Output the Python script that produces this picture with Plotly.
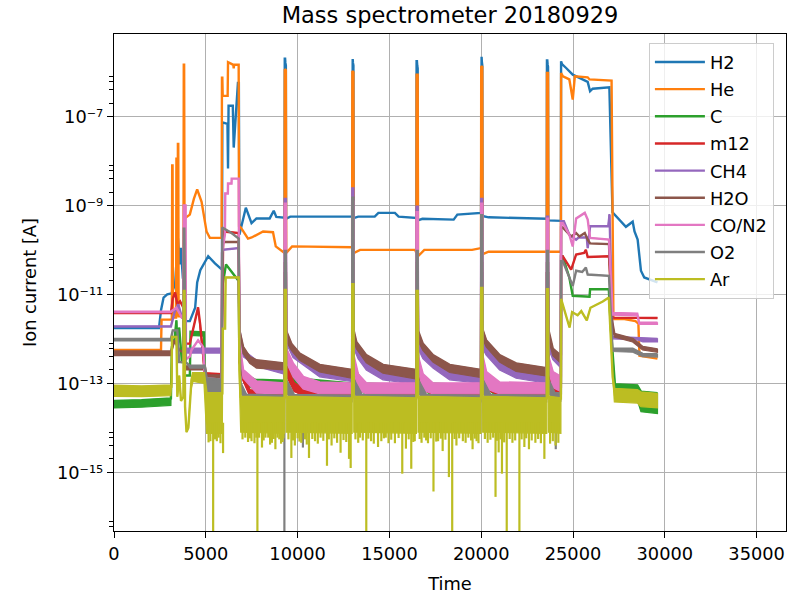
import plotly.graph_objects as go

# Mass spectrometer log of 2018-09-29: ion current [A] per channel versus time [s].
# Clean channels are stored as (time, current) knots.  Noisy channels are stored as
# (time, upper, lower) envelope knots; lower = None means the trace is clean there.

H2_ROWS = [
    (0, 1.74e-12), (2450, 1.74e-12), (2560, 4.4e-12), (2700, 8.5e-12), (2900, 1.0e-11),
    (3130, 1.05e-11), (3330, 1.7e-11), (3480, 1.86e-10), (3570, 4.7e-11), (3640, 1.12e-10),
    (3750, 2.4e-11), (3790, 2.4e-11), (3850, 2.5e-12), (4130, 2.5e-12), (4420, 5.0e-12),
    (4530, 1.86e-11), (4700, 3.5e-11), (5130, 7.2e-11), (5500, 5.0e-11), (5880, 3.6e-11),
    (5900, 7.4e-8), (6180, 6.8e-8), (6210, 6.8e-9), (6240, 1.74e-7), (6470, 1.74e-7),
    (6520, 2.0e-8), (6750, 5.7e-7), (6800, 5.7e-7), (6830, 2.2e-10), (7180, 8.9e-10),
    (7490, 4.0e-10), (7760, 5.1e-10), (8480, 5.1e-10), (8700, 7.6e-10), (8840, 5.5e-10),
    (9290, 5.3e-10), (9300, 2.0e-6), (9320, 2.0e-6), (9335, 1.6e-6), (9360, 1.4e-6),
    (9370, 5.0e-10), (9600, 5.6e-10), (12970, 5.6e-10), (12980, 1.95e-6), (13000, 1.95e-6),
    (13015, 1.6e-6), (13040, 1.4e-6), (13050, 5.2e-10), (13300, 5.6e-10), (14200, 5.6e-10),
    (14400, 6.8e-10), (15300, 6.8e-10), (15500, 5.6e-10), (16470, 5.2e-10), (16480, 1.74e-6),
    (16500, 1.74e-6), (16515, 1.4e-6), (16540, 1.2e-6), (16550, 4.6e-10), (16800, 5.0e-10),
    (18500, 4.8e-10), (18700, 6.2e-10), (19990, 6.8e-10), (20000, 2.2e-6), (20020, 2.2e-6),
    (20035, 1.7e-6), (20060, 1.4e-6), (20070, 5.8e-10), (20400, 5.4e-10), (23570, 5.0e-10),
    (23580, 1.82e-6), (23600, 1.82e-6), (23615, 1.5e-6), (23640, 1.3e-6), (23650, 4.6e-10),
    (24340, 4.5e-10), (24350, 1.74e-6), (24400, 1.5e-6), (24625, 1.23e-6), (24985, 8.7e-7),
    (25350, 7.4e-7), (25800, 6.0e-7), (25930, 3.7e-7), (26070, 4.2e-7), (26980, 4.5e-7),
    (27150, 7.0e-10), (27880, 3.3e-10), (28250, 4.3e-10), (28350, 2.6e-10), (28520, 1.7e-10),
    (28700, 3.4e-11), (28880, 2.4e-11), (29600, 1.86e-11),
]

HE_ROWS = [
    (0, 5.6e-13), (2560, 5.6e-13), (2590, 2.7e-12), (3150, 2.7e-12), (3170, 7.9e-9),
    (3190, 7.9e-9), (3210, 3.0e-12), (3380, 3.0e-12), (3400, 1.2e-8), (3420, 3.2e-12),
    (3460, 3.2e-12), (3480, 2.4e-8), (3500, 2.4e-8), (3520, 3.2e-12), (3780, 3.2e-12),
    (3800, 1.45e-6), (3820, 1.45e-6), (3840, 5.1e-10), (4130, 6.2e-10), (4350, 1.4e-9),
    (4530, 2.3e-9), (4770, 1.2e-9), (5040, 2.6e-10), (5220, 1.86e-10), (5860, 1.86e-10),
    (5880, 7.4e-7), (5900, 7.4e-7), (5920, 2.9e-7), (6190, 2.9e-7), (6210, 1.66e-6),
    (6500, 1.45e-6), (6520, 1.2e-6), (6540, 1.45e-6), (6790, 1.45e-6), (6812, 3.4e-10),
    (6900, 3.2e-10), (7300, 1.8e-10), (7500, 1.9e-10), (8120, 2.6e-10), (8660, 2.5e-10),
    (8810, 1.2e-10), (9290, 8.5e-11), (9300, 1.15e-6), (9360, 1.1e-6), (9380, 8.5e-11),
    (9700, 1.2e-10), (12970, 1.15e-10), (12980, 1.05e-6), (13040, 1.0e-6), (13060, 8.5e-11),
    (13400, 1.0e-10), (16400, 1.0e-10), (16470, 8.5e-11), (16480, 8.7e-7), (16540, 8.7e-7),
    (16560, 7.2e-11), (16900, 1.0e-10), (19500, 1.0e-10), (19900, 1.1e-10), (19990, 1.1e-10),
    (20000, 1.35e-6), (20060, 1.3e-6), (20080, 8.0e-11), (20400, 9.1e-11), (23570, 9.1e-11),
    (23580, 9.5e-7), (23640, 9.5e-7), (23660, 9.1e-11), (24340, 9.1e-11), (24350, 9.5e-7),
    (24450, 8.0e-7), (24800, 6.8e-7), (24985, 2.4e-7), (25100, 8.0e-7), (25800, 7.6e-7),
    (25900, 6.8e-7), (27100, 6.4e-7), (27200, 2.8e-12), (27800, 2.8e-12), (28400, 2.5e-12),
    (28560, 2.2e-12), (28620, 4.2e-13), (29600, 3.6e-13),
]

C_ROWS = [
    (0, 4.0e-14, 2.8e-14), (1500, 4.2e-14, 2.9e-14), (3100, 4.6e-14, 3.2e-14),
    (3150, 6.6e-13, None), (3300, 1.0e-12, None), (3400, 2.6e-12, None), (3450, 6.0e-13, None),
    (3550, 1.8e-12, None), (3700, 3.0e-13, None), (3780, 3.0e-13, None), (3800, 2.0e-11, None),
    (3830, 2.0e-11, None), (3850, 1.5e-13, None), (4130, 1.5e-13, None),
    (4170, 1.45e-12, 1.2e-12), (4900, 1.4e-12, 1.15e-12), (4950, 1.2e-13, 8e-14),
    (5860, 1.0e-13, 6e-14), (5900, 1.5e-11, None), (6100, 4.7e-11, None), (6790, 2.0e-11, None),
    (6830, 3.0e-13, None), (7100, 1.6e-13, 1.0e-13), (7700, 1.2e-13, 7e-14),
    (9290, 1.15e-13, 6.5e-14), (9300, 3e-11, None), (9360, 3e-11, None),
    (9380, 2.5e-13, 1.5e-13), (9800, 1.3e-13, 8e-14), (12970, 1.0e-13, 6e-14),
    (12980, 3e-11, None), (13040, 3e-11, None), (13060, 2.2e-13, 1.2e-13),
    (13600, 1.0e-13, 6e-14), (16470, 9e-14, 5e-14), (16480, 3e-11, None), (16540, 3e-11, None),
    (16560, 2.2e-13, 1.2e-13), (17100, 1.0e-13, 6e-14), (19990, 9e-14, 5e-14),
    (20000, 3e-11, None), (20060, 3e-11, None), (20080, 2.2e-13, 1.2e-13),
    (20600, 1.0e-13, 6e-14), (23570, 9e-14, 5e-14), (23580, 3e-11, None), (23640, 3e-11, None),
    (23660, 2.2e-13, 1.2e-13), (24340, 1.0e-13, 6e-14), (24350, 7.0e-11, None),
    (24440, 7.0e-11, None), (24600, 4.5e-11, None), (24800, 2.4e-11, None),
    (24985, 9.3e-12, None), (25900, 8.9e-12, None), (25930, 1.3e-11, None),
    (26950, 1.3e-11, None), (26970, 8.9e-12, None), (27050, 2.0e-12, None),
    (27280, 9.5e-14, 4.5e-14), (28500, 9.0e-14, 4.2e-14), (28700, 6.5e-14, 2.3e-14),
    (29600, 6.0e-14, 2.1e-14),
]

M12_ROWS = [
    (0, 3.8e-12, None), (3100, 3.8e-12, None), (3200, 8.0e-12, None), (3330, 1.1e-11, None),
    (3450, 6.0e-12, None), (3600, 7.0e-12, None), (3780, 5.0e-12, None), (3800, 3e-10, None),
    (3830, 3e-10, None), (3860, 7.8e-13, None), (4130, 7.8e-13, None), (4580, 5.1e-12, None),
    (4700, 2.0e-12, None), (4950, 1.7e-13, 1.2e-13), (5860, 1.6e-13, 1.1e-13),
    (5950, 2.6e-10, None), (6790, 2.4e-10, None), (6830, 3.0e-13, None),
    (7000, 1.6e-13, 1.2e-13), (7400, 7e-14, 5e-14), (9290, 6.6e-14, 4.8e-14),
    (9300, 3e-11, None), (9360, 3e-11, None), (9380, 2.5e-13, 1.5e-13), (9800, 1.0e-13, 6.5e-14),
    (10500, 7e-14, 5e-14), (12970, 6.6e-14, 4.8e-14), (12980, 3e-11, None), (13040, 3e-11, None),
    (13060, 2.5e-13, 1.5e-13), (13500, 1.0e-13, 6.5e-14), (14200, 7e-14, 5e-14),
    (16470, 6.6e-14, 4.8e-14), (16480, 3e-11, None), (16540, 3e-11, None),
    (16560, 2.5e-13, 1.5e-13), (17000, 1.0e-13, 6.5e-14), (17700, 7e-14, 5e-14),
    (19990, 6.6e-14, 4.8e-14), (20000, 3e-11, None), (20060, 3e-11, None),
    (20080, 2.5e-13, 1.5e-13), (20500, 1.0e-13, 6.5e-14), (21200, 7e-14, 5e-14),
    (23570, 6.6e-14, 4.8e-14), (23580, 3e-11, None), (23640, 3e-11, None),
    (23660, 2.5e-13, 1.5e-13), (24000, 1.0e-13, 6.5e-14), (24340, 8e-14, 5.5e-14),
    (24350, 7.2e-11, None), (24440, 7.2e-11, None), (24900, 3.6e-11, None),
    (25170, 7.9e-11, None), (25600, 8.5e-11, None), (25700, 1.0e-10, None),
    (25800, 6.9e-11, None), (26960, 7.2e-11, None), (27150, 3.0e-12, None),
    (29600, 2.95e-12, None),
]

CH4_ROWS = [
    (0, 1.9e-12, None), (3100, 1.9e-12, None), (3300, 4.0e-12, None), (3500, 6.0e-12, None),
    (3700, 3.0e-12, None), (3780, 3.0e-12, None), (3800, 1.0e-10, None), (3830, 1.0e-10, None),
    (3860, 6.0e-13, 4.8e-13), (5860, 6.0e-13, 4.8e-13), (5900, 1.0e-10, None),
    (6790, 1.1e-10, None), (6830, 1.6e-12, None), (7030, 5.5e-13, 4.0e-13),
    (7760, 3.2e-13, 2.4e-13), (9290, 2.3e-13, 1.6e-13), (9300, 1.4e-9, None),
    (9360, 1.4e-9, None), (9380, 1.2e-12, 8e-13), (9750, 5.6e-13, 3.8e-13),
    (11200, 1.8e-13, 1.4e-13), (12970, 1.4e-13, 1.1e-13), (12980, 2.4e-9, None),
    (13040, 2.4e-9, None), (13060, 1.0e-12, 6e-13), (13290, 5.6e-13, 3.6e-13),
    (13740, 3.1e-13, 2.0e-13), (14650, 1.7e-13, 1.2e-13), (16470, 1.35e-13, 9.5e-14),
    (16480, 9.3e-10, None), (16540, 9.3e-10, None), (16560, 1.0e-12, 6e-13),
    (16820, 5.6e-13, 3.6e-13), (17370, 3.3e-13, 2.2e-13), (18280, 1.8e-13, 1.2e-13),
    (19990, 1.45e-13, 1.0e-13), (20000, 1.4e-9, None), (20060, 1.4e-9, None),
    (20080, 1.0e-12, 6e-13), (20270, 6.6e-13, 4.3e-13), (21000, 3.1e-13, 2.0e-13),
    (21900, 1.8e-13, 1.3e-13), (23570, 1.5e-13, 1.0e-13), (23580, 5.6e-10, None),
    (23640, 5.6e-10, None), (23660, 1.0e-12, 6e-13), (23900, 5.0e-13, 3.4e-13),
    (24340, 3.3e-13, 2.2e-13), (24350, 4.4e-10, None), (24500, 4.4e-10, None),
    (24800, 2.2e-10, None), (25170, 1.7e-10, None), (25300, 1.9e-10, None),
    (25750, 1.9e-10, None), (25800, 1.1e-10, None), (25930, 3.4e-10, None),
    (26920, 3.4e-10, None), (26960, 6.2e-10, None), (26990, 6.2e-10, None),
    (27150, 1.1e-12, 1.0e-12), (28500, 1.05e-12, 9.5e-13), (28800, 1.0e-12, 8.5e-13),
    (29600, 1.0e-12, 8.5e-13),
]

H2O_ROWS = [
    (0, 5.2e-13, 4.2e-13), (3100, 5.2e-13, 4.2e-13), (3300, 9.3e-13, None),
    (3450, 7.0e-13, None), (3550, 5.6e-13, None), (3780, 5.0e-13, None), (3800, 5e-11, None),
    (3830, 5e-11, None), (3860, 2.4e-13, 2.0e-13), (4945, 2.4e-13, 2.0e-13),
    (5040, 1.5e-13, 1.0e-13), (5860, 1.5e-13, 1.0e-13), (5900, 1.5e-10, None),
    (6790, 1.5e-10, None), (6830, 1.55e-12, None), (6900, 1.2e-12, 9e-13),
    (7030, 6.6e-13, 4.7e-13), (7390, 3.9e-13, 2.8e-13), (7760, 3.3e-13, 2.2e-13),
    (9290, 2.8e-13, 2.0e-13), (9300, 5e-11, None), (9360, 5e-11, None),
    (9380, 1.5e-12, 9e-13), (9660, 7.8e-13, 5.5e-13), (10110, 4.7e-13, 3.3e-13),
    (11200, 2.6e-13, 1.8e-13), (12970, 2.0e-13, 1.3e-13), (12980, 5e-11, None),
    (13040, 5e-11, None), (13060, 1.5e-12, 9e-13), (13200, 8.5e-13, 6.0e-13),
    (13740, 4.3e-13, 2.9e-13), (14650, 2.6e-13, 1.7e-13), (16470, 2.0e-13, 1.25e-13),
    (16480, 5e-11, None), (16540, 5e-11, None), (16560, 1.5e-12, 9e-13),
    (16820, 7.8e-13, 5.5e-13), (17370, 4.3e-13, 3.0e-13), (18280, 2.6e-13, 1.75e-13),
    (19990, 2.0e-13, 1.35e-13), (20000, 5e-11, None), (20060, 5e-11, None),
    (20080, 1.6e-12, 1.0e-12), (20270, 9.3e-13, 6.6e-13), (21000, 4.3e-13, 3.0e-13),
    (21900, 2.8e-13, 1.85e-13), (23570, 2.2e-13, 1.45e-13), (23580, 5e-11, None),
    (23640, 5e-11, None), (23660, 1.6e-12, 1.0e-12), (23900, 6.0e-13, 4.2e-13),
    (24340, 4.2e-13, 2.8e-13), (24350, 3.2e-10, None), (24440, 3.2e-10, None),
    (24900, 2.0e-10, None), (25170, 2.4e-10, None), (25350, 2.0e-10, None),
    (25640, 2.4e-10, None), (25800, 1.7e-10, None), (25930, 1.4e-10, None),
    (26960, 1.35e-10, None), (27100, 3.0e-12, None), (27250, 1.3e-12, 1.1e-12),
    (28250, 1.0e-12, 8.5e-13), (28790, 6.6e-13, 5.6e-13), (29600, 5.8e-13, 5.0e-13),
]

CO_N2_ROWS = [
    (0, 4.1e-12, 3.9e-12), (3100, 4.1e-12, 3.9e-12), (3400, 5.0e-12, None),
    (3700, 3.0e-12, None), (3780, 3.0e-12, None), (3800, 1.0e-9, None), (3900, 1.0e-9, None),
    (3920, 3.5e-13, None), (4130, 4.0e-13, None), (4220, 5.6e-13, None), (4580, 9.3e-13, None),
    (4850, 6.6e-13, None), (4945, 1.7e-13, 1.2e-13), (5040, 1.3e-13, 9e-14),
    (5860, 1.2e-13, 8e-14), (5880, 8.5e-11, None), (6040, 2.2e-10, None),
    (6060, 1.86e-9, None), (6200, 1.86e-9, None), (6210, 3.1e-9, None), (6400, 3.1e-9, None),
    (6410, 4.0e-9, None), (6790, 4.0e-9, None), (6830, 1.0e-12, None),
    (6900, 5.0e-13, 3.0e-13), (7030, 2.0e-13, 1.3e-13), (7760, 1.1e-13, 6.0e-14),
    (9290, 1.0e-13, 5.8e-14), (9300, 1.1e-9, None), (9360, 1.1e-9, None),
    (9380, 6e-13, 3e-13), (9750, 2.8e-13, 1.4e-13), (10300, 1.4e-13, 7.5e-14),
    (11200, 1.05e-13, 5.8e-14), (12970, 1.0e-13, 5.8e-14), (12980, 1.2e-9, None),
    (13040, 1.2e-9, None), (13060, 4e-13, 2e-13), (13290, 1.6e-13, 7e-14),
    (13740, 1.0e-13, 5.8e-14), (16470, 1.0e-13, 5.8e-14), (16480, 7e-10, None),
    (16540, 7e-10, None), (16560, 4e-13, 2e-13), (16820, 1.6e-13, 7e-14),
    (17370, 1.0e-13, 5.8e-14), (19990, 1.0e-13, 5.8e-14), (20000, 1.1e-9, None),
    (20060, 1.1e-9, None), (20080, 4e-13, 2e-13), (20270, 1.8e-13, 7.5e-14),
    (21000, 1.05e-13, 5.8e-14), (23570, 1.0e-13, 5.8e-14), (23580, 5e-10, None),
    (23640, 5e-10, None), (23660, 4e-13, 2e-13), (23900, 1.8e-13, 8e-14),
    (24340, 1.4e-13, 6.5e-14), (24350, 4.0e-10, None), (24440, 4.0e-10, None),
    (24800, 2.2e-10, None), (24985, 1.2e-10, None), (25170, 5.1e-10, None),
    (25640, 6.8e-10, None), (25800, 4.8e-10, None), (25930, 1.86e-10, None),
    (26960, 1.7e-10, None), (27150, 3.8e-12, 3.4e-12), (28500, 3.7e-12, 3.3e-12),
    (28600, 2.3e-12, 2.1e-12), (29600, 2.3e-12, 2.1e-12),
]

O2_ROWS = [
    (0, 1.0e-12, 9.0e-13), (3100, 1.0e-12, 9.0e-13), (3200, 1.55e-12, None),
    (3450, 1.55e-12, None), (3550, 3.0e-13, None), (3780, 3.0e-13, None), (3800, 3e-10, None),
    (3830, 3e-10, None), (3900, 3.0e-13, None), (4130, 2.5e-13, 2.2e-13),
    (4945, 2.5e-13, 2.2e-13), (5040, 1.3e-13, 5.2e-14), (5860, 1.2e-13, 5e-14),
    (5900, 3.2e-10, None), (6400, 2.4e-10, None), (6790, 1.8e-10, None), (6830, 1.0e-12, None),
    (6900, 1.0e-13, 6e-14), (7200, 5.5e-14, 4e-14), (9290, 5.3e-14, 3.8e-14),
    (9300, 9.5e-11, None), (9360, 9.5e-11, None), (9380, 1.2e-13, 6e-14),
    (9800, 5.5e-14, 3.8e-14), (12970, 5.3e-14, 3.8e-14), (12980, 1.5e-9, None),
    (13040, 1.5e-9, None), (13060, 1.2e-13, 6e-14), (13500, 5.5e-14, 3.8e-14),
    (16470, 5.3e-14, 3.8e-14), (16480, 9.5e-11, None), (16540, 9.5e-11, None),
    (16560, 1.2e-13, 6e-14), (17000, 5.5e-14, 3.8e-14), (19990, 5.3e-14, 3.8e-14),
    (20000, 6e-10, None), (20060, 6e-10, None), (20080, 1.2e-13, 6e-14),
    (20500, 5.5e-14, 3.8e-14), (23570, 5.3e-14, 3.8e-14), (23580, 9.5e-11, None),
    (23640, 9.5e-11, None), (23660, 1.2e-13, 6e-14), (24000, 6e-14, 4e-14),
    (24340, 6e-14, 4e-14), (24350, 5.6e-11, None), (24440, 5.6e-11, None),
    (24985, 1.55e-11, None), (25170, 3.4e-11, None), (25500, 3.2e-11, None),
    (25700, 4.0e-11, None), (25800, 2.8e-11, None), (26960, 2.6e-11, None),
    (27150, 6.0e-13, 5.2e-13), (28250, 6.0e-13, 5.0e-13), (28790, 4.6e-13, 4.0e-13),
    (29600, 4.5e-13, 3.9e-13),
]

AR_ROWS = [
    (0, 8.9e-14, 5.1e-14), (1500, 8.5e-14, 5.0e-14), (3100, 9e-14, 5.3e-14),
    (3130, 8e-14, None), (3160, 1.1e-12, None), (3400, 1.1e-12, None), (3450, 5e-14, None),
    (3550, 1.5e-13, None), (3650, 4e-14, None), (3780, 5e-14, None), (3800, 1.2e-11, None),
    (3840, 1.2e-11, None), (3870, 3e-14, None), (3950, 8e-15, None), (4050, 1.0e-14, None),
    (4150, 5e-14, None), (4220, 1.2e-13, 8e-14), (4300, 1.7e-13, 1.1e-13),
    (4900, 1.7e-13, 1.0e-13), (4945, 1.2e-13, 6e-14), (5040, 6.0e-14, 7.5e-15),
    (5900, 6.0e-14, 7.5e-15), (5930, 1.7e-12, None), (6050, 1.7e-12, None),
    (6080, 2.4e-11, None), (6790, 2.4e-11, None), (6830, 2e-13, 1e-13),
    (6900, 5e-14, 8e-15), (9290, 4.7e-14, 7.5e-15), (9300, 1.26e-11, None),
    (9360, 1.26e-11, None), (9380, 5e-14, 8e-15), (12970, 4.6e-14, 7.5e-15),
    (12980, 1.7e-11, None), (13040, 1.7e-11, None), (13060, 5e-14, 8e-15),
    (16470, 4.6e-14, 7.5e-15), (16480, 1.2e-11, None), (16540, 1.2e-11, None),
    (16560, 5e-14, 8e-15), (19990, 4.6e-14, 7.5e-15), (20000, 1.4e-11, None),
    (20060, 1.4e-11, None), (20080, 5e-14, 8e-15), (23570, 4.6e-14, 7.5e-15),
    (23580, 1.3e-11, None), (23640, 1.3e-11, None), (23660, 5e-14, 8e-15),
    (24340, 4.6e-14, 7.5e-15), (24350, 7.9e-12, None), (24810, 1.8e-12, None),
    (24950, 4.0e-12, None), (25250, 3.4e-12, None), (25450, 4.2e-12, None),
    (25750, 2.6e-12, None), (25950, 5.0e-12, None), (26620, 6.9e-12, None),
    (26950, 8.5e-12, None), (27050, 1.0e-12, None), (27160, 1.4e-13, None),
    (27250, 7.5e-14, 3.8e-14), (28500, 7.0e-14, 3.6e-14), (28700, 6.2e-14, 3.0e-14),
    (29600, 5.8e-14, 2.8e-14),
]

# isolated drop-outs of the Ar and O2 channels: (time, minimum current)
AR_DIPS = [
    (5150, 4.7e-15), (5250, 5e-15), (5400, 1e-17), (5500, 5.5e-15), (5600, 5e-15),
    (5700, 6e-15), (5800, 4.5e-15), (5940, 2.7e-15), (7000, 5.5e-15), (7150, 6e-15),
    (7300, 4.8e-15), (7400, 5.8e-15), (7490, 5e-15), (7650, 4.5e-15), (7750, 6e-15),
    (7810, 1e-17), (7900, 6e-15), (8060, 3.6e-15), (8150, 5.2e-15), (8250, 6e-15),
    (8400, 6e-15), (8500, 4.2e-15), (8600, 4.6e-15), (8700, 5.6e-15), (8790, 3.3e-15),
    (8900, 6e-15), (9000, 5.5e-15), (9100, 4.4e-15), (9180, 4.8e-15), (9230, 5.8e-15),
    (9500, 5.5e-15), (9660, 2.1e-15), (9750, 5.2e-15), (9850, 4e-15), (10000, 5.8e-15),
    (10100, 4.9e-15), (10200, 4.6e-15), (10400, 5.5e-15), (10500, 4.2e-15), (10620, 2.1e-15),
    (10800, 5.6e-15), (10950, 5e-15), (11100, 4.4e-15), (11250, 6e-15), (11400, 5.1e-15),
    (11600, 1.4e-15), (11700, 5.5e-15), (11850, 4e-15), (12000, 5.8e-15), (12150, 4.6e-15),
    (12340, 2.75e-15), (12500, 5.3e-15), (12650, 4.8e-15), (12800, 2e-15), (12890, 1.25e-15),
    (13150, 5.5e-15), (13300, 4.6e-15), (13400, 6e-15), (13550, 5.2e-15), (13740, 1e-17),
    (13850, 5.7e-15), (14000, 5e-15), (14150, 4.4e-15), (14380, 3.7e-15), (14560, 5e-15),
    (14700, 5.8e-15), (14800, 6e-15), (14950, 4.5e-15), (15100, 5.4e-15), (15300, 4.5e-15),
    (15500, 5.9e-15), (15700, 9.3e-16), (15900, 3.4e-15), (16050, 5.5e-15), (16190, 1.2e-15),
    (16300, 4.8e-15), (16380, 5e-15), (16650, 5.6e-15), (16750, 4.6e-15), (16900, 6e-15),
    (17000, 5.2e-15), (17100, 4.5e-15), (17250, 5.8e-15), (17400, 3.7e-16), (17550, 4.9e-15),
    (17650, 5e-15), (17800, 5.7e-15), (17900, 3e-15), (18050, 5.4e-15), (18240, 7.8e-16),
    (18420, 1e-17), (18550, 5.6e-15), (18650, 4e-15), (18800, 5.8e-15), (19000, 5e-15),
    (19150, 4.6e-15), (19300, 6e-15), (19450, 5.2e-15), (19530, 3.3e-15), (19650, 5.7e-15),
    (19750, 5e-15), (19850, 4.5e-15), (20200, 5.6e-15), (20350, 4.6e-15), (20500, 5.4e-15),
    (20650, 6e-15), (20780, 2.8e-16), (20850, 5.1e-15), (20950, 2.8e-15), (21050, 5.5e-15),
    (21130, 9.3e-16), (21250, 4.7e-15), (21390, 1e-17), (21550, 5.6e-15), (21700, 4.6e-15),
    (21850, 5.2e-15), (22080, 1e-17), (22200, 5.5e-15), (22350, 3.7e-15), (22450, 5.8e-15),
    (22600, 3.3e-15), (22750, 5.2e-15), (22950, 4.6e-15), (23100, 5.6e-15), (23250, 4.5e-15),
    (23440, 2e-15), (23750, 4.4e-15), (23900, 5e-15), (24050, 4e-15), (24200, 4.6e-15),
]
O2_DIPS = [(9280, 1e-17), (10290, 3.6e-15), (24060, 3.3e-15)]

CHANNELS = ["H2", "He", "C", "m12", "CH4", "H2O", "CO/N2", "O2", "Ar"]
COLORS = ["#1f77b4", "#ff7f0e", "#2ca02c", "#d62728", "#9467bd",
          "#8c564b", "#e377c2", "#7f7f7f", "#bcbd22"]

X_TICKS = [0, 5000, 10000, 15000, 20000, 25000, 30000, 35000]
Y_TICK_EXP = [-15, -13, -11, -9, -7]

LINE_W = 2.4
fig = go.Figure()


def add_clean(name, color, rows):
    t = [r[0] for r in rows]
    v = [r[1] for r in rows]
    fig.add_trace(go.Scatter(x=t, y=v, mode="lines", name=name, legendgroup=name,
                             line=dict(color=color, width=LINE_W), hoverinfo="skip"))


def add_noisy(name, color, rows):
    t = [r[0] for r in rows]
    hi = [r[1] for r in rows]
    lo = [r[1] if r[2] is None else r[2] for r in rows]
    # envelope of the noisy signal
    fig.add_trace(go.Scatter(x=t + t[::-1], y=hi + lo[::-1], mode="lines", fill="toself",
                             fillcolor=color, line=dict(color=color, width=1.2),
                             legendgroup=name, showlegend=False, hoverinfo="skip"))
    fig.add_trace(go.Scatter(x=t, y=hi, mode="lines", name=name, legendgroup=name,
                             line=dict(color=color, width=LINE_W), hoverinfo="skip"))


def add_dips(name, color, rows, floor):
    xs, ys = [], []
    for t, v in rows:
        xs += [t, t, None]
        ys += [floor, v, None]
    fig.add_trace(go.Scatter(x=xs, y=ys, mode="lines", line=dict(color=color, width=2.2),
                             legendgroup=name, showlegend=False, hoverinfo="skip"))


add_clean(CHANNELS[0], COLORS[0], H2_ROWS)
add_clean(CHANNELS[1], COLORS[1], HE_ROWS)
add_noisy(CHANNELS[2], COLORS[2], C_ROWS)
add_noisy(CHANNELS[3], COLORS[3], M12_ROWS)
add_noisy(CHANNELS[4], COLORS[4], CH4_ROWS)
add_noisy(CHANNELS[5], COLORS[5], H2O_ROWS)
add_noisy(CHANNELS[6], COLORS[6], CO_N2_ROWS)
add_noisy(CHANNELS[7], COLORS[7], O2_ROWS)
add_dips(CHANNELS[7], COLORS[7], O2_DIPS, 4.5e-14)
add_noisy(CHANNELS[8], COLORS[8], AR_ROWS)
add_dips(CHANNELS[8], COLORS[8], AR_DIPS, 1.3e-14)

# log-axis ticks: labelled every second decade, minor marks 2,4,6,8 in those decades
SUPERSCRIPT = str.maketrans("-0123456789", "\u207b\u2070\u00b9\u00b2\u00b3\u2074\u2075\u2076\u2077\u2078\u2079")
y_major = [10.0 ** e for e in Y_TICK_EXP]
y_text = ["10" + str(e).translate(SUPERSCRIPT) for e in Y_TICK_EXP]
y_minor = [k * 10.0 ** e for e in [-17, -15, -13, -11, -9, -7] for k in (2, 4, 6, 8)]

axis_common = dict(
    showline=True, linecolor="black", linewidth=1.4, mirror=True,
    ticks="outside", ticklen=6, tickwidth=1.4, tickcolor="black",
    showgrid=True, gridcolor="#b0b0b0", gridwidth=1.2, zeroline=False,
    tickfont=dict(size=17.8, color="black"),
)

fig.update_layout(
    width=790, height=594,
    margin=dict(l=114, r=3, t=34, b=58),
    paper_bgcolor="white", plot_bgcolor="white",
    font=dict(family="DejaVu Sans", size=17.8, color="black"),
    title=dict(text="Mass spectrometer 20180929", x=0.5, xref="paper", xanchor="center",
               y=1 - 15 / 594, yref="container", yanchor="middle",
               font=dict(size=22.5, color="black")),
    xaxis=dict(range=[0, 36600], tickvals=X_TICKS, ticktext=[str(v) for v in X_TICKS],
               title=dict(text="Time", font=dict(size=17.8)), **axis_common),
    yaxis=dict(type="log", range=[-16.32, -5.146], tickvals=y_major, ticktext=y_text,
               minor=dict(tickvals=y_minor, ticks="outside", ticklen=3.5, tickwidth=1.1,
                          tickcolor="black", showgrid=False),
               title=dict(text="Ion current [A]", font=dict(size=17.8)), **axis_common),
    legend=dict(x=0.796, y=0.982, xanchor="left", yanchor="top",
                bgcolor="rgba(255,255,255,0.8)", bordercolor="#cccccc", borderwidth=1,
                font=dict(size=17.8, color="black"), traceorder="grouped", tracegroupgap=1,
                itemwidth=50),
    showlegend=True,
)

fig.write_html("out.html")
